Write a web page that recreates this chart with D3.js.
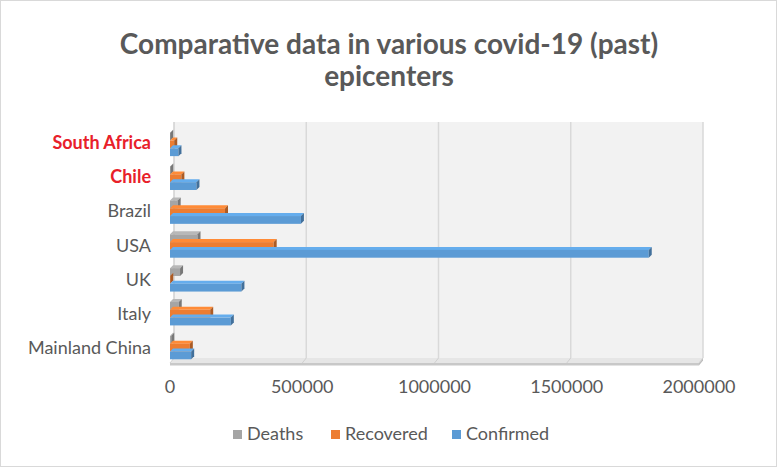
<!DOCTYPE html>
<html><head><meta charset="utf-8">
<script src="https://cdn.jsdelivr.net/npm/d3@7"></script>
<style>body{margin:0;background:#fff}svg{display:block}text{font-family:Lato,"Open Sans",sans-serif}</style>
</head><body><svg id="c" width="777" height="467"></svg>
<script>
const categories = ["Mainland China","Italy","UK","USA","Brazil","Chile","South Africa"];
const highlighted = ["South Africa","Chile"];
const seriesNames = ["Deaths","Recovered","Confirmed"];
const deaths    = [4600, 33000, 38000, 104000, 29000, 1200, 700];
const recovered = [75000, 152000, 1000, 392000, 208000, 43000, 16000];
const confirmed = [80000, 230000, 270000, 1810000, 495000, 100000, 32000];
const xTicks = [0, 500000, 1000000, 1500000, 2000000];
const colors = ["#a5a5a5","#ed7d31","#5b9bd5"];
const titleLines = ["Comparative data in various covid-19 (past)","epicenters"];

const svg = d3.select("#c");
const W = 777, H = 467;
svg.append("rect").attr("x",0.5).attr("y",0.5).attr("width",W-1).attr("height",H-1)
  .attr("fill","#fff").attr("stroke","#d9d9d9").attr("stroke-width",1);

// title
svg.append("g").selectAll("text").data(titleLines).join("text")
  .attr("x", 389).attr("y",(d,i)=>54+i*32).attr("text-anchor","middle")
  .attr("font-size",28).attr("font-weight","bold").attr("fill","#595959").text(d=>d);

const dx = 4, dy = -5; // depth offset
const x = d3.scaleLinear().domain([0,2000000]).range([170,699]);
const y = d3.scaleBand().domain(categories.slice().reverse()).range([126, 363]);
const yLab = d3.scaleBand().domain(categories.slice().reverse()).range([126, 366]);

// back wall
svg.append("rect").attr("x",x(0)+dx).attr("y",122).attr("width",x(2000000)-x(0)).attr("height",358-122)
  .attr("fill","#f2f2f2");
svg.append("g").selectAll("line").data(xTicks).join("line")
  .attr("x1",d=>x(d)+dx).attr("x2",d=>x(d)+dx).attr("y1",122).attr("y2",358)
  .attr("stroke",(d,i)=>i===0?"#d0d0d0":"#d9d9d9").attr("stroke-width",1.5);
// floor
const fy = 363;
svg.append("path").attr("d",`M${x(0)},${fy} L${x(0)+dx},${fy+dy} L${x(2000000)+dx},${fy+dy} L${x(2000000)},${fy} Z`)
  .attr("fill","#e6e6e6");
svg.append("rect").attr("x",x(0)).attr("y",fy).attr("width",x(2000000)-x(0)).attr("height",2.5).attr("fill","#c8c8c8");
svg.append("path").attr("d",`M${x(2000000)},${fy} L${x(2000000)+dx},${fy+dy} L${x(2000000)+dx},${fy+dy+2.5} L${x(2000000)},${fy+2.5} Z`).attr("fill","#bdbdbd");
svg.append("g").selectAll("line").data(xTicks).join("line")
  .attr("x1",d=>x(d)).attr("x2",d=>x(d)+dx).attr("y1",fy).attr("y2",fy+dy)
  .attr("stroke","#d0d0d0").attr("stroke-width",1);

// bars
const data = seriesNames.map((s,si)=>({name:s, color:colors[si], values:[deaths,recovered,confirmed][si]}));
const bh = 7.8;
const gBars = svg.append("g");
categories.forEach((c,ci)=>{
  const cy = y(c) + y.bandwidth()/2 + 0.5;
  data.forEach((s,si)=>{
    const v = s.values[ci];
    const y0 = cy - 1.5*bh + si*bh + 1;
    const x0 = x(0), x1 = x(v);
    const col = d3.color(s.color);
    const g = gBars.append("g");
    g.append("path").attr("d",`M${x0},${y0} L${x0+3},${y0-3} L${x1+3},${y0-3} L${x1},${y0} Z`)
      .attr("fill",col.brighter(0.3));
    g.append("rect").attr("x",x0).attr("y",y0).attr("width",Math.max(0.5,x1-x0)).attr("height",bh)
      .attr("fill",s.color);
    g.append("path").attr("d",`M${x1},${y0} L${x1+3},${y0-3} L${x1+3},${y0+bh-3} L${x1},${y0+bh} Z`)
      .attr("fill",col.darker(0.9));
  });
});

// y axis labels
svg.append("g").selectAll("text").data(categories).join("text")
  .attr("x",151).attr("y",d=>yLab(d)+yLab.bandwidth()/2+1)
  .attr("text-anchor","end").attr("dominant-baseline","middle")
  .attr("font-size",18)
  .attr("font-weight",d=>highlighted.includes(d)?"bold":"normal")
  .attr("fill",d=>highlighted.includes(d)?"#e8202a":"#595959")
  .text(d=>d);

// x axis labels
svg.append("g").selectAll("text").data(xTicks).join("text")
  .attr("x",d=>x(d)).attr("y",393).attr("text-anchor","middle")
  .attr("font-size",18).attr("fill","#595959").text(d=>d3.format("d")(d));

// legend
const legX = [233, 331, 452];
const lg = svg.append("g").selectAll("g").data(seriesNames).join("g")
  .attr("transform",(d,i)=>`translate(${legX[i]},435)`);
lg.append("rect").attr("x",0).attr("y",-5).attr("width",9).attr("height",9).attr("fill",(d,i)=>colors[i]);
lg.append("text").attr("x",14).attr("y",0).attr("dominant-baseline","middle")
  .attr("font-size",18).attr("fill","#595959").text(d=>d);
</script></body></html>
